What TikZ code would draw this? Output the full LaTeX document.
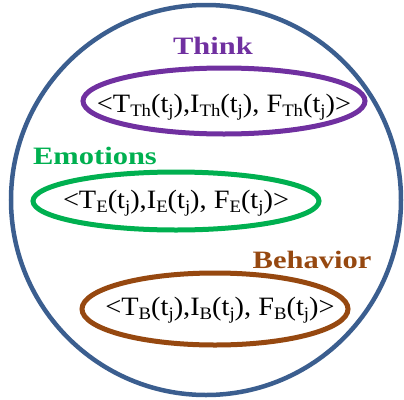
\documentclass[tikz,border=0pt]{standalone}
\usepackage{fontspec}
\setmainfont{Liberation Serif}
\newfontfamily\labfont[FakeStretch=1.22]{Liberation Serif}
\newfontfamily\trifont[FakeStretch=1.07]{Liberation Serif}
\definecolor{ringblue}{HTML}{3B5E8F}
\definecolor{thinkpurple}{HTML}{7030A0}
\definecolor{emogreen}{HTML}{00B050}
\definecolor{behbrown}{HTML}{964810}
\newcommand\sbx[1]{\raisebox{-0.16em}{\fontsize{17.5}{17.5}\selectfont #1}}
\newcommand\trip[1]{<T\sbx{#1}(t\sbx{j}),I\sbx{#1}(t\sbx{j}), F\sbx{#1}(t\sbx{j})>}
\begin{document}
\begin{tikzpicture}[x=1pt,y=-1pt,
  lab/.style={font=\labfont\bfseries\fontsize{25}{25}\selectfont, anchor=base, inner sep=0pt},
  trio/.style={font=\trifont\fontsize{26.5}{26.5}\selectfont, anchor=base, inner sep=0pt, text=black}]
\useasboundingbox (0,0) rectangle (404,399);
\draw[ringblue, line width=4.5pt] (206,200) circle (195);
\draw[thinkpurple, line width=5pt] (224,101) ellipse (141 and 33);
\draw[emogreen, line width=5pt] (176,201) ellipse (143 and 29);
\draw[behbrown, line width=5pt] (215,309) ellipse (133 and 36);
\node[lab, text=thinkpurple] (think) at (213,54) {Think};
\node[lab, text=emogreen] (emo) at (95,164) {Emotions};
\node[lab, text=behbrown] (beh) at (312,268) {Behavior};
\node[trio] (tth) at (224,112) {\trip{Th}};
\node[trio] (te) at (176,208) {\trip{E}};
\node[trio] (tb) at (220,315) {\trip{B}};
\end{tikzpicture}
\end{document}
